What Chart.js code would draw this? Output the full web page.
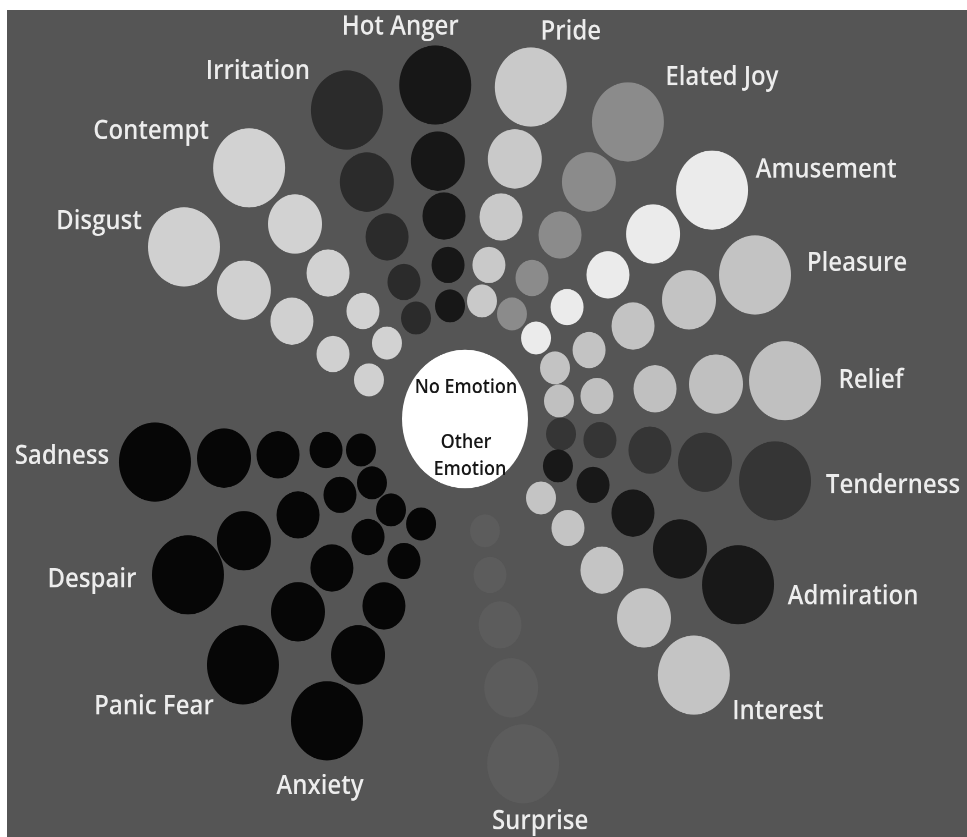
<!DOCTYPE html>
<html>
<head>
<meta charset="utf-8">
<title>Geneva Emotion Wheel</title>
<script src="https://cdn.jsdelivr.net/npm/chart.js@4/dist/chart.umd.min.js"></script>
<style>
  html, body { margin: 0; padding: 0; background: #fff; }
  #wrap { position: relative; width: 967px; height: 837px; overflow: hidden; }
  #panel { position: absolute; left: 7px; top: 10px; right: 0; bottom: 0; background: #555; }
  #wheel { position: absolute; left: 0; top: 0; }
</style>
</head>
<body>
<div id="wrap">
  <div id="panel"></div>
  <!-- drawn at 967x761 and shown at 967x837, the source picture is stretched 1.1x in height -->
  <canvas id="wheel" width="967" height="761" style="width:967px;height:837px"></canvas>
</div>
<script>
// emotion families, going round the wheel anticlockwise from the top
const emotions = ["Hot Anger", "Irritation", "Contempt", "Disgust", "Sadness", "Despair",
  "Panic Fear", "Anxiety", "Surprise", "Interest", "Admiration", "Tenderness",
  "Relief", "Pleasure", "Amusement", "Elated Joy", "Pride"]

// intensity levels, small circle near the centre = 1, big outer circle = 5
const intensity = [1, 2, 3, 4, 5]

// direction of every circle, degrees anticlockwise from 3 o'clock (inner -> outer)
const spokeAngle = [
  [98.3, 96.9, 96.5, 96.6, 95.6],
  [118.1, 116.1, 115.2, 114.5, 112.8],
  [138.5, 136.1, 135.9, 133.8, 133.4],
  [159.7, 155.9, 152.8, 152.1, 150.9],
  [195.2, 191.5, 189.9, 188.4, 187.2],
  [212.0, 208.9, 207.6, 206.6, 207.1],
  [228.2, 227.9, 225.5, 226.4, 225.2],
  [245.3, 244.7, 244.5, 243.5, 243.3],
  [281.1, 280.0, 280.6, 280.7, 280.5],
  [316.6, 316.1, 314.9, 314.7, 314.5],
  [335.3, 334.9, 333.0, 331.2, 331.1],
  [351.9, 351.9, 351.3, 350.7, 349.7],
  [9.9, 9.0, 8.2, 7.2, 6.2],
  [27.3, 26.8, 26.7, 25.8, 24.3],
  [46.0, 44.9, 42.5, 41.8, 40.1],
  [63.8, 62.4, 60.4, 60.1, 58.9],
  [81.0, 80.3, 78.9, 78.1, 77.7]
]

// distance of every circle from the middle of the wheel (inner -> outer)
const spokeDist = [
  [103.8, 141.0, 185.7, 236.0, 305.1],
  [104.0, 138.7, 183.0, 236.7, 304.7],
  [104.2, 141.6, 190.7, 245.6, 314.2],
  [102.4, 144.6, 194.6, 250.2, 321.6],
  [107.8, 141.8, 189.8, 243.6, 312.5],
  [109.7, 142.8, 188.4, 247.3, 311.2],
  [111.0, 144.6, 189.9, 242.2, 315.1],
  [105.1, 142.8, 188.3, 239.7, 307.2],
  [103.7, 144.0, 190.5, 248.8, 318.9],
  [104.6, 142.9, 194.0, 254.5, 326.5],
  [102.3, 141.4, 188.5, 245.3, 311.9],
  [97.0, 136.3, 187.1, 243.2, 315.1],
  [95.4, 133.6, 192.0, 253.0, 321.9],
  [101.3, 139.0, 188.1, 248.8, 318.2],
  [102.3, 144.1, 193.9, 252.3, 323.0],
  [106.4, 144.6, 192.4, 248.6, 315.4],
  [108.6, 142.0, 187.1, 241.6, 308.9]
]

const centreLabels = ["No Emotion", "Other", "Emotion"]

// --- looks ---
const spokeColor = ["#171717", "#2b2b2b", "#d2d2d2", "#d0d0d0", "#060606", "#060606",
  "#060606", "#060606", "#5c5c5c", "#c4c4c4", "#181818", "#353535",
  "#c0c0c0", "#c3c3c3", "#ebebeb", "#8b8b8b", "#c9c9c9"]
const levelRadius = [15, 16.5, 21.5, 27, 36]
const centreRadius = 63
// where each name sits, relative to its biggest circle (px)
const labelOffset = [
  [-35, -54.5], [-89, -36.4], [-98, -34.5], [-85, -24.5], [-93, -6.4], [-96, 2.7],
  [-89, 36.4], [-7, 58.2], [17, 50.9], [84, 31.8], [115, 9.1], [118, 2.7],
  [86, -1.8], [102, -11.8], [114, -20], [94, -41.8], [40, -51.8]
]
const centreOffset = [[1, -30], [1, 20], [5, 44.5]]

const toRad = Math.PI / 180

const datasets = emotions.map((name, i) => ({
  label: name,
  data: intensity.map((lv, k) => ({
    x: spokeDist[i][k] * Math.cos(spokeAngle[i][k] * toRad),
    y: spokeDist[i][k] * Math.sin(spokeAngle[i][k] * toRad),
    r: levelRadius[lv - 1]
  })),
  backgroundColor: spokeColor[i],
  borderWidth: 0,
  hoverBorderWidth: 0
}))

datasets.push({
  label: "centre",
  data: [{ x: 0, y: 0, r: centreRadius }],
  backgroundColor: "#ffffff",
  borderWidth: 0
})

const wheelLabels = {
  id: "wheelLabels",
  afterDatasetsDraw(chart) {
    const ctx = chart.ctx
    ctx.save()
    ctx.textAlign = "center"
    ctx.textBaseline = "alphabetic"

    ctx.font = "600 24px 'Open Sans'"
    ctx.fillStyle = "#ededed"
    emotions.forEach((name, i) => {
      const outer = chart.getDatasetMeta(i).data[intensity.length - 1]
      const off = labelOffset[i]
      ctx.fillText(name, outer.x + off[0], outer.y + off[1] + 0.357 * 24)
    })

    const mid = chart.getDatasetMeta(emotions.length).data[0]
    ctx.font = "600 18px 'Open Sans'"
    ctx.fillStyle = "#161616"
    centreLabels.forEach((txt, j) => {
      ctx.fillText(txt, mid.x + centreOffset[j][0], mid.y + centreOffset[j][1] + 0.357 * 18)
    })
    ctx.restore()
  }
}

new Chart(document.getElementById("wheel"), {
  type: "bubble",
  data: { datasets: datasets },
  options: {
    responsive: false,
    devicePixelRatio: 2,
    animation: false,
    layout: { padding: 0, autoPadding: false },
    scales: {
      x: { type: "linear", min: -465, max: 502, display: false },
      y: { type: "linear", min: -380.1, max: 380.9, display: false }
    },
    plugins: {
      legend: { display: false },
      tooltip: { enabled: false }
    },
    events: []
  },
  plugins: [wheelLabels]
})
</script>
</body>
</html>
